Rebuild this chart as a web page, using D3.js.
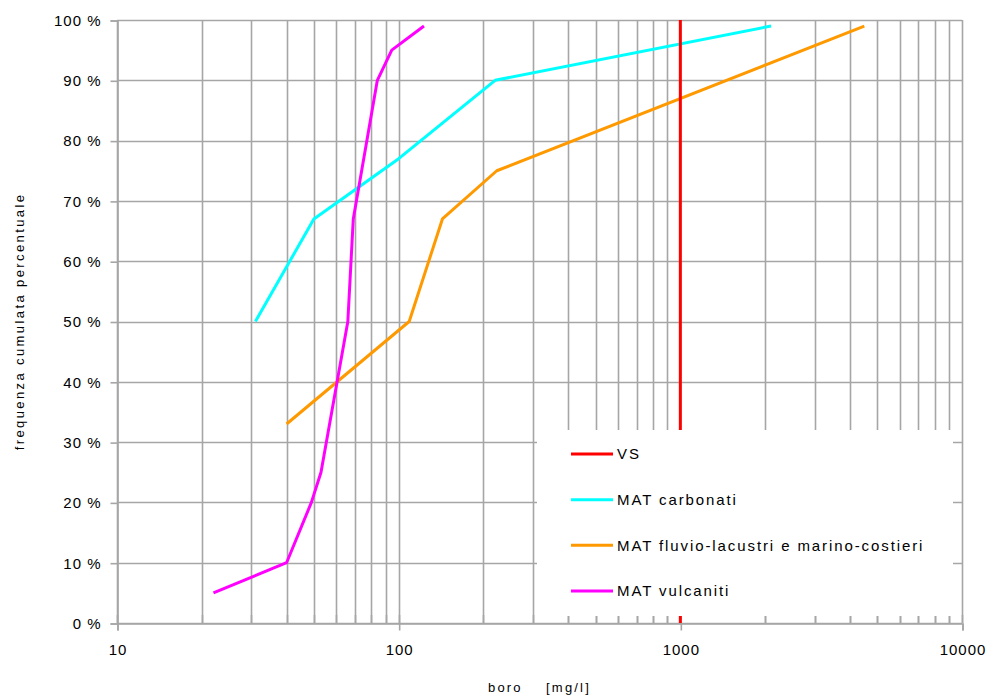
<!DOCTYPE html>
<html><head><meta charset="utf-8">
<script src="https://cdn.jsdelivr.net/npm/d3@7"></script>
<style>
body{margin:0;background:#fff;}
text{font-family:"Liberation Sans",Arial,sans-serif;fill:#000;}
</style></head>
<body><svg id="c" width="987" height="695"></svg>
<script>
// ---- data ----
const seriesNames = ["VS", "MAT carbonati", "MAT fluvio-lacustri e marino-costieri", "MAT vulcaniti"];
const seriesColors = ["#ff0000", "#00ffff", "#ff9900", "#ff00ff"];
const vsX = [1000, 1000];
const vsY = [0, 100];
const carbonatiX = [31, 50, 100, 220, 2100];
const carbonatiY = [50, 67, 77, 90, 99];
const fluvioX = [40, 109, 143, 223, 4500];
const fluvioY = [33, 50, 67, 75, 99];
const vulcanitiX = [22, 40, 49, 53, 66, 69, 84, 94.5, 123];
const vulcanitiY = [5, 10, 20, 25, 50, 67, 90, 95, 99];
const xTickValues = [10, 100, 1000, 10000];
const yTickValues = [0, 10, 20, 30, 40, 50, 60, 70, 80, 90, 100];
const xTitle = "boro    [mg/l]";
const yTitle = "frequenza cumulata percentuale";

// ---- layout ----
const L = 117, R = 962, T = 20, B = 623;
const svg = d3.select("#c");
const x = d3.scaleLog().domain([10, 10000]).range([L, R]);
const y = d3.scaleLinear().domain([0, 100]).range([B, T]);
const gridColor = "#a6a6a6";
const FONT = '"Liberation Sans",Arial,sans-serif';

// minor/major vertical gridlines
const xGrid = [];
for (let d = 10; d < 10000; d *= 10) for (let k = 1; k <= 9; k++) xGrid.push(d * k);
xGrid.push(10000);
const g = svg.append("g");
g.selectAll("line.vx").data(xGrid).enter().append("line")
  .attr("x1", d => Math.round(x(d)) + 0.5).attr("x2", d => Math.round(x(d)) + 0.5)
  .attr("y1", T).attr("y2", B)
  .attr("stroke", gridColor).attr("stroke-width", 1.6);
g.selectAll("line.hy").data(yTickValues).enter().append("line")
  .attr("y1", d => Math.round(y(d)) + 0.5).attr("y2", d => Math.round(y(d)) + 0.5)
  .attr("x1", L).attr("x2", R)
  .attr("stroke", gridColor).attr("stroke-width", 1.6);

// axes
const yAxis = d3.axisLeft(y).tickValues(yTickValues).tickFormat(d => d + " %").tickSize(7).tickPadding(9);
const ya = svg.append("g").attr("transform", `translate(${L + 0.5},0.5)`).call(yAxis);
const xAxis = d3.axisBottom(x).tickValues(xTickValues).tickFormat(d3.format("d")).tickSize(7).tickPadding(14);
const xa = svg.append("g").attr("transform", `translate(0.5,${B + 0.5})`).call(xAxis);
[ya, xa].forEach(a => {
  a.select(".domain").attr("stroke", gridColor).attr("stroke-width", 1.6);
  a.selectAll(".tick line").attr("stroke", gridColor).attr("stroke-width", 1.6);
  a.selectAll("text").attr("font-size", 15).attr("letter-spacing", "1px")
    .style("font-family", FONT).attr("fill", "#000");
});
// minor inner ticks on x axis
svg.append("g").selectAll("line").data(xGrid).enter().append("line")
  .attr("x1", d => Math.round(x(d)) + 0.5).attr("x2", d => Math.round(x(d)) + 0.5)
  .attr("y1", B - 8).attr("y2", B).attr("stroke", gridColor).attr("stroke-width", 1.6);

// series
const line = d3.line().x(d => x(d[0])).y(d => y(d[1]));
const zip = (a, b) => a.map((v, i) => [v, b[i]]);
const drawOrder = [
  [1, zip(carbonatiX, carbonatiY)],
  [2, zip(fluvioX, fluvioY)],
  [3, zip(vulcanitiX, vulcanitiY)],
  [0, zip(vsX, vsY)]
];
drawOrder.forEach(([i, pts]) => {
  svg.append("path").datum(pts).attr("d", line)
    .attr("fill", "none").attr("stroke", seriesColors[i]).attr("stroke-width", 3)
    .attr("stroke-linejoin", "round");
});

// legend
const lg = svg.append("g");
lg.append("rect").attr("x", 537).attr("y", 430).attr("width", 953 - 537).attr("height", 616 - 430).attr("fill", "#fff");
const legY = d3.scaleLinear().domain([0, 3]).range([454, 591]);
seriesNames.forEach((n, i) => {
  lg.append("line").attr("x1", 571).attr("x2", 613).attr("y1", legY(i)).attr("y2", legY(i))
    .attr("stroke", seriesColors[i]).attr("stroke-width", 3);
  lg.append("text").attr("x", 617).attr("y", legY(i)).attr("dy", "0.36em")
    .attr("font-size", 15).attr("letter-spacing", "1.9px").text(n);
});

// titles
svg.append("text").attr("x", (L + R) / 2).attr("y", 692).attr("text-anchor", "middle")
  .attr("font-size", 13).attr("letter-spacing", "2.2px").attr("xml:space", "preserve").style("white-space", "pre").text(xTitle);
svg.append("text").attr("transform", `translate(24,${(T + B) / 2}) rotate(-90)`).attr("text-anchor", "middle")
  .attr("font-size", 13).attr("letter-spacing", "2.4px").text(yTitle);
</script></body></html>
